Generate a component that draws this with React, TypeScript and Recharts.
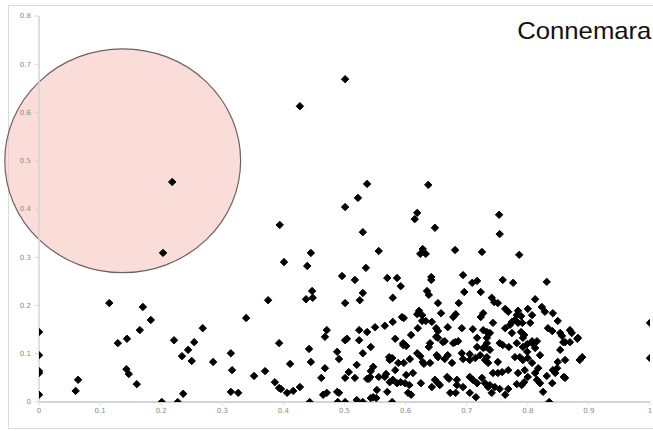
import React from 'react';
import { ScatterChart, Scatter, XAxis, YAxis, ReferenceArea } from 'recharts';

const chartTitle = 'Connemara';
const xTicks = [0, 0.1, 0.2, 0.3, 0.4, 0.5, 0.6, 0.7, 0.8, 0.9, 1];
const yTicks = [0, 0.1, 0.2, 0.3, 0.4, 0.5, 0.6, 0.7, 0.8];

// highlighted region (ellipse annotation) in data units
const highlightX = [-0.056, 0.33];
const highlightY = [0.268, 0.732];

const sparsePoints: [number, number][] = [
  [0.218, 0.456], [0.203, 0.309], [0.501, 0.669], [0.427, 0.613], [0.537, 0.452], [0.637, 0.45],
  [0.522, 0.423], [0.501, 0.404], [0.619, 0.392], [0.615, 0.379], [0.753, 0.388], [0.394, 0.367],
  [0.53, 0.352], [0.648, 0.361], [0.754, 0.348], [0.401, 0.29], [0.445, 0.309], [0.439, 0.282],
  [0.556, 0.313], [0.628, 0.317], [0.624, 0.307], [0.633, 0.307], [0.681, 0.315], [0.725, 0.311],
  [0.786, 0.305], [0.535, 0.278], [0.496, 0.261], [0.57, 0.257], [0.586, 0.257], [0.642, 0.259],
  [0.694, 0.263], [0.517, 0.253],
];

const leftPoints: [number, number][] = [
  [0.115, 0.205], [0.17, 0.197], [0.183, 0.17], [0, 0.145], [0.165, 0.149], [0.268, 0.153],
  [0.129, 0.122], [0.144, 0.131], [0.221, 0.128], [0.254, 0.124], [0.244, 0.108], [0.234, 0.095],
  [0.25, 0.085], [0.285, 0.083], [0, 0.097], [0, 0.064], [0, 0.06], [0.143, 0.068], [0.147, 0.058],
  [0.16, 0.037], [0.064, 0.046], [0.06, 0.023], [0, 0.015], [0.201, 0], [0.227, 0], [0.236, 0.017],
];

const midPoints: [number, number][] = [
  [0.314, 0.101], [0.316, 0.066], [0.314, 0.021], [0.326, 0.019], [0.339, 0.174], [0.375, 0.211],
  [0.393, 0.122], [0.352, 0.054], [0.37, 0.064], [0.411, 0.079], [0.386, 0.041], [0.393, 0.029],
  [0.396, 0.027], [0.406, 0.019], [0.416, 0.023], [0.427, 0.031], [0.447, 0.23], [0.437, 0.213],
  [0.448, 0.216], [0.442, 0.11], [0.445, 0.083], [0.443, 0], [0.468, 0.07], [0.462, 0.05],
  [0.465, 0.015], [0.471, 0.019], [0.501, 0.205], [0.525, 0.211], [0.53, 0.226], [0.471, 0.149],
  [0.468, 0.135], [0.488, 0.104], [0.491, 0.089], [0.501, 0.128], [0.504, 0.131], [0.524, 0.149],
  [0.537, 0.145], [0.524, 0.128], [0.53, 0.101], [0.543, 0.114], [0.55, 0.155], [0.566, 0.158],
  [0.579, 0.166], [0.579, 0.216], [0.583, 0.131], [0.52, 0.077], [0.501, 0.05], [0.517, 0.05],
  [0.507, 0.062], [0.547, 0.073], [0.543, 0.064], [0.537, 0.048], [0.54, 0.048], [0.556, 0.052],
  [0.566, 0.052], [0.573, 0.093], [0.574, 0.087], [0.583, 0.066], [0.488, 0.021], [0.491, 0.019],
  [0.489, 0], [0.501, 0], [0.52, 0.004], [0.53, 0], [0.543, 0.008], [0.552, 0.008], [0.57, 0.021],
  [0.578, 0], [0.574, 0.041], [0.586, 0.039],
];

const upperDensePoints: [number, number][] = [
  [0.592, 0.24], [0.642, 0.253], [0.709, 0.247], [0.717, 0.251], [0.635, 0.23], [0.638, 0.222],
  [0.696, 0.228], [0.723, 0.228], [0.653, 0.205], [0.687, 0.205], [0.622, 0.189], [0.619, 0.182],
  [0.627, 0.18], [0.658, 0.184], [0.682, 0.182], [0.678, 0.176], [0.727, 0.184], [0.723, 0.176],
  [0.594, 0.176], [0.597, 0.174], [0.627, 0.168], [0.633, 0.168], [0.643, 0.166], [0.62, 0.153],
  [0.65, 0.153], [0.653, 0.147], [0.669, 0.155], [0.692, 0.153], [0.71, 0.151], [0.727, 0.149],
  [0.733, 0.145], [0.609, 0.139], [0.65, 0.135], [0.653, 0.133], [0.686, 0.126], [0.664, 0.126],
  [0.717, 0.133], [0.596, 0.122], [0.64, 0.122], [0.678, 0.122],
  [0.759, 0.253], [0.776, 0.247], [0.831, 0.249], [0.741, 0.216], [0.745, 0.207], [0.751, 0.205],
  [0.812, 0.213], [0.763, 0.193], [0.768, 0.187], [0.784, 0.189], [0.782, 0.18], [0.789, 0.178],
  [0.779, 0.17], [0.774, 0.166], [0.771, 0.16], [0.784, 0.164], [0.791, 0.164], [0.8, 0.193],
  [0.823, 0.197], [0.828, 0.187], [0.841, 0.184], [0.807, 0.18], [0.804, 0.164], [0.849, 0.168],
  [0.743, 0.164], [0.763, 0.153], [0.774, 0.143], [0.789, 0.145], [0.794, 0.139], [0.792, 0.133],
  [0.738, 0.143], [0.733, 0.133], [0.833, 0.153], [0.84, 0.147], [0.853, 0.143], [0.856, 0.137],
  [0.869, 0.149], [0.872, 0.143], [0.881, 0.131], [0.861, 0.124], [0.807, 0.126], [0.815, 0.126],
  [0.754, 0.122], [0.782, 0.122],
];

const lowerDensePoints: [number, number][] = [
  [0.596, 0.118], [0.601, 0.116], [0.638, 0.114], [0.661, 0.124], [0.681, 0.124], [0.578, 0.091],
  [0.588, 0.081], [0.597, 0.081], [0.607, 0.089], [0.619, 0.101], [0.624, 0.095], [0.628, 0.083],
  [0.63, 0.079], [0.64, 0.081], [0.651, 0.097], [0.653, 0.093], [0.664, 0.089], [0.669, 0.097],
  [0.676, 0.081], [0.692, 0.101], [0.705, 0.099], [0.694, 0.089], [0.705, 0.087], [0.714, 0.091],
  [0.722, 0.097], [0.73, 0.087], [0.727, 0.112], [0.717, 0.114], [0.733, 0.122], [0.568, 0.058],
  [0.579, 0.046], [0.592, 0.041], [0.601, 0.056], [0.612, 0.06], [0.599, 0.039], [0.606, 0.035],
  [0.625, 0.039], [0.643, 0.031], [0.648, 0.046], [0.653, 0.039], [0.656, 0.035], [0.668, 0.052],
  [0.671, 0.048], [0.684, 0.046], [0.684, 0.035], [0.694, 0.031], [0.705, 0.052], [0.71, 0.046],
  [0.717, 0.039], [0.725, 0.05], [0.73, 0.039], [0.735, 0.031], [0.553, 0.025], [0.604, 0.019],
  [0.609, 0.015], [0.673, 0.019], [0.682, 0.019], [0.705, 0.019], [0.715, 0.01], [0.542, 0.052],
  [0.547, 0.01],
  [0.73, 0.114], [0.738, 0.108], [0.733, 0.093], [0.759, 0.118], [0.769, 0.114], [0.792, 0.114],
  [0.799, 0.12], [0.807, 0.122], [0.812, 0.112], [0.82, 0.097], [0.799, 0.104], [0.787, 0.093],
  [0.779, 0.093], [0.792, 0.087], [0.8, 0.091], [0.807, 0.081], [0.858, 0.124], [0.869, 0.124],
  [0.853, 0.108], [0.889, 0.093], [0.885, 0.087], [0.849, 0.083], [0.861, 0.087], [0.735, 0.081],
  [0.751, 0.083], [0.758, 0.062], [0.768, 0.066], [0.743, 0.06], [0.751, 0.06], [0.784, 0.06],
  [0.795, 0.066], [0.8, 0.052], [0.812, 0.06], [0.817, 0.07], [0.815, 0.046], [0.831, 0.054],
  [0.845, 0.06], [0.841, 0.066], [0.848, 0.07], [0.859, 0.052], [0.84, 0.039], [0.825, 0.021],
  [0.82, 0.039], [0.738, 0.035], [0.746, 0.031], [0.741, 0.019], [0.754, 0.027], [0.768, 0.027],
  [0.763, 0.015], [0.782, 0.037], [0.79, 0.035], [0.794, 0.041], [0.835, 0], [0.861, 0.05],
  [0.882, 0.133],
];

const edgePoints: [number, number][] = [
  [1.0, 0.164], [1.0, 0.091],
];

const allPoints = [
  ...sparsePoints, ...leftPoints, ...midPoints, ...upperDensePoints, ...lowerDensePoints, ...edgePoints,
].map(([x, y]) => ({ x, y }));

const Diamond = (props: any) => {
  const { cx, cy } = props;
  if (cx == null || cy == null) return null;
  const r = 3.7;
  return (
    <path
      d={`M${cx},${cy - r}L${cx + r},${cy}L${cx},${cy + r}L${cx - r},${cy}Z`}
      fill="#000"
      stroke="#000"
      strokeWidth={1}
      strokeLinejoin="round"
    />
  );
};

const EllipseShape = (props: any) => {
  const { x, y, width, height } = props;
  if (x == null) return null;
  return (
    <ellipse
      cx={x + width / 2}
      cy={y + height / 2}
      rx={Math.abs(width) / 2}
      ry={Math.abs(height) / 2}
      fill="#f6bfb8"
      fillOpacity={0.55}
      stroke="#6e6262"
      strokeWidth={1.2}
    />
  );
};

const tickStyle = { fontSize: 7, fill: '#8a8a8a', fontFamily: 'DejaVu Sans, sans-serif' };

export default function App() {
  return (
    <div style={{ position: 'relative', width: 653, height: 431, overflow: 'hidden', background: '#fff' }}>
      <style>{`body{margin:0;}`}</style>
      <div
        style={{
          position: 'absolute',
          left: 8,
          top: 5,
          width: 700,
          height: 422,
          border: '1px solid #dcdcdc',
        }}
      />
      <div style={{ position: 'absolute', left: 0, top: 0 }}>
        <ScatterChart width={653} height={431} margin={{ top: 16, right: 3, bottom: 9, left: 0 }}>
          <XAxis
            type="number"
            dataKey="x"
            domain={[0, 1]}
            ticks={xTicks}
            tickFormatter={(v: number) => String(v)}
            height={20}
            tick={tickStyle}
            tickSize={4}
            tickMargin={2}
            stroke="#d4d4d4"
            axisLine={{ stroke: '#d4d4d4', strokeWidth: 2 }}
            tickLine={{ stroke: '#e0e0e0' }}
            allowDataOverflow
          />
          <YAxis
            type="number"
            dataKey="y"
            domain={[0, 0.8]}
            ticks={yTicks}
            tickFormatter={(v: number) => String(v)}
            width={39}
            tick={tickStyle}
            tickSize={4}
            tickMargin={4}
            axisLine={{ stroke: '#d4d4d4', strokeWidth: 1.5 }}
            tickLine={{ stroke: '#d4d4d4' }}
            allowDataOverflow
          />
          <ReferenceArea
            x1={highlightX[0]}
            x2={highlightX[1]}
            y1={highlightY[0]}
            y2={highlightY[1]}
            ifOverflow="visible"
            shape={EllipseShape}
          />
          <Scatter data={allPoints} shape={Diamond} isAnimationActive={false} />
        </ScatterChart>
      </div>
      <div
        style={{
          position: 'absolute',
          right: 2,
          top: 18,
          fontSize: 24,
          lineHeight: '26px',
          fontFamily: 'Liberation Sans, Arial, sans-serif',
          color: '#111',
          whiteSpace: 'nowrap',
          transform: 'scaleX(1.07)',
          transformOrigin: 'right center',
        }}
      >
        {chartTitle}
      </div>
    </div>
  );
}
